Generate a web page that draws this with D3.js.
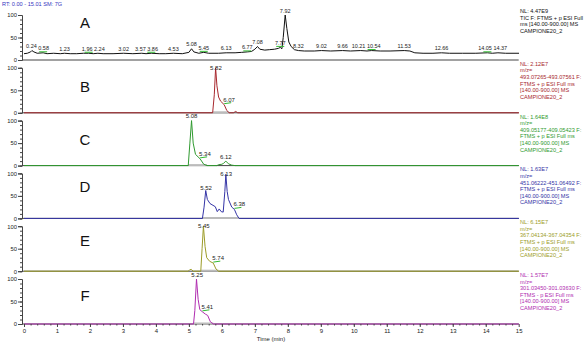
<!DOCTYPE html>
<html>
<head>
<meta charset="utf-8">
<script src="https://cdn.jsdelivr.net/npm/d3@7"></script>
<style>
  body { margin: 0; background: #fff; }
  svg text { font-family: "Liberation Sans", Arial, sans-serif; }
</style>
</head>
<body>
<div id="chart"></div>
<script>
// chromatogram traces, [time (min), relative abundance %]
var traceA = [[0,14],[0.1,15],[0.2,18],[0.24,21],[0.3,18],[0.4,15],[0.58,16],[0.7,14],[0.9,15],[1.1,14],
  [1.23,15],[1.4,14],[1.6,14],[1.8,15],[1.96,15],[2.1,14],[2.24,15],[2.4,14],[2.7,14],[3.02,15],[3.3,14],
  [3.57,15],[3.7,14],[3.86,15],[4.1,14],[4.3,14],[4.53,15],[4.8,14],[5.0,17],[5.08,25],[5.15,18],[5.3,15],
  [5.45,17],[5.6,15],[5.9,15],[6.13,16],[6.4,16],[6.6,17],[6.77,18],[6.9,19],[7.0,24],[7.08,30],[7.15,24],
  [7.3,22],[7.45,23],[7.6,24],[7.72,26],[7.77,28],[7.82,25],[7.86,50],[7.92,100],[7.97,70],[8.03,40],
  [8.1,30],[8.2,23],[8.32,21],[8.5,20],[8.8,20],[9.02,21],[9.3,20],[9.66,21],[9.9,20],[10.21,21],
  [10.4,20],[10.54,21],[10.8,20],[11.1,20],[11.53,21],[11.7,20],[11.85,16],[12.1,15],[12.4,15],
  [12.66,16],[12.9,15],[13.3,15],[13.7,15],[14.05,16],[14.2,15],[14.37,16],[14.6,15],[15.01,15]];
var traceB = [[0,0],[5.72,0],[5.77,40],[5.81,100],[5.85,60],[5.9,35],[5.96,26],[6.07,18],[6.15,5],
  [6.22,0],[6.35,0],[6.42,3],[6.48,0],[15.01,0]];
var traceC = [[0,0],[4.98,0],[5.03,50],[5.08,100],[5.13,50],[5.2,25],[5.34,15],[5.45,3],[5.55,0],
  [5.85,0],[5.9,2],[6.0,3],[6.05,5],[6.12,10],[6.2,4],[6.3,1],[6.4,0],[15.01,0]];
var traceD = [[0,0],[5.41,0],[5.46,25],[5.51,62],[5.56,42],[5.64,33],[5.8,26],[5.86,15],[5.92,21],
  [5.98,15],[6.04,14],[6.09,60],[6.12,98],[6.16,60],[6.2,42],[6.3,25],[6.38,20],[6.45,8],[6.52,0],[15.01,0]];
var traceE = [[0,0],[4.98,0],[5.02,3],[5.07,4],[5.13,0],[5.36,0],[5.4,50],[5.44,100],[5.49,55],
  [5.54,30],[5.63,22],[5.74,18],[5.82,5],[5.9,0],[15.01,0]];
var traceF = [[0,0],[5.14,0],[5.18,30],[5.23,100],[5.28,55],[5.33,32],[5.41,27],[5.5,22],[5.57,19],
  [5.65,5],[5.74,0],[15.01,0]];

var panelNames = ["A", "B", "C", "D", "E", "F"];

// peak time labels: centred over the apex / drawn beside a green marker
var peaksA = [0.24, 0.58, 1.23, 1.96, 2.24, 3.02, 3.57, 3.86, 4.53, 5.08, 5.45, 6.13, 6.77, 7.08, 7.77,
  7.92, 8.32, 9.02, 9.66, 10.21, 10.54, 11.53, 12.66, 14.05, 14.37];
var greenA = [0.58, 1.96, 3.86, 5.45, 6.77, 7.77, 10.54, 14.05];
var apexPeaks = [peaksA, [5.82], [5.08, 6.12], [5.52, 6.13], [5.45], [5.25]];
var sidePeaks = [[], [6.07], [5.34], [6.38], [5.74], [5.41]];

var nlValues = ["NL: 4.47E9", "NL: 2.12E7", "NL: 1.64E8", "NL: 1.63E7", "NL: 6.15E7", "NL: 1.57E7"];
var scanInfo = [
  ["TIC F: FTMS + p ESI Full", "ms [140.00-900.00]  MS", "CAMPIONE20_2"],
  ["m/z=", "493.07265-493.07561 F:", "FTMS + p ESI Full ms", "[140.00-900.00]  MS", "CAMPIONE20_2"],
  ["m/z=", "409.05177-409.05423 F:", "FTMS + p ESI Full ms", "[140.00-900.00]  MS", "CAMPIONE20_2"],
  ["m/z=", "451.06222-451.06492 F:", "FTMS + p ESI Full ms", "[140.00-900.00]  MS", "CAMPIONE20_2"],
  ["m/z=", "367.04134-367.04354 F:", "FTMS + p ESI Full ms", "[140.00-900.00]  MS", "CAMPIONE20_2"],
  ["m/z=", "301.03450-301.03630 F:", "FTMS - p ESI Full ms", "[140.00-900.00]  MS", "CAMPIONE20_2"]];

var xTicks = d3.range(0, 16);
var yTicks = [0, 50, 100];

var traces = [traceA, traceB, traceC, traceD, traceE, traceF];
var colors = ["#111111", "#a8282e", "#2f9a2f", "#3434a6", "#9c9c28", "#b02cb0"];
// integration baselines under the main peaks
var peakSpans = [[], [5.72, 6.22], [4.98, 5.55], [5.41, 6.52], [5.36, 5.9], [5.14, 5.74]];
var letterLevel = [82, 57, 58, 70, 67, 62];

var width = 586, height = 343;
var svg = d3.select("#chart").append("svg")
    .attr("width", width)
    .attr("height", height);

var x = d3.scaleLinear().domain([0, 15]).range([24, 518.7]);
var pitch = 52.8;

function valueAt(data, t) {
  var i = d3.bisector(function(d) { return d[0]; }).left(data, t);
  if (i <= 0) return data[0][1];
  if (i >= data.length) return data[data.length - 1][1];
  var a = data[i - 1], b = data[i];
  return a[1] + (b[1] - a[1]) * (t - a[0]) / (b[0] - a[0]);
}

// push apart labels that sit on the same level and would overlap
function spread(labels) {
  for (var pass = 0; pass < 20; pass++) {
    for (var k = 1; k < labels.length; k++) {
      var a = labels[k - 1], b = labels[k];
      if (Math.abs(a.y - b.y) > 5) continue;
      var need = (a.w + b.w) / 2 + 1.5 - (b.x - a.x);
      if (need > 0) { a.x -= need / 2; b.x += need / 2; }
    }
  }
  return labels;
}

svg.append("text")
    .attr("x", 2).attr("y", 6)
    .attr("font-size", "5.6px")
    .attr("fill", "#3535c0")
    .text("RT: 0.00 - 15.01    SM: 7G");

traces.forEach(function(data, i) {
  var y = d3.scaleLinear().domain([0, 100]).range([60 + i * pitch, 15 + i * pitch]);
  var g = svg.append("g");
  var col = colors[i];
  var fs = i === 0 ? 5.5 : 6;

  // zero line
  g.append("line")
      .attr("x1", 22).attr("x2", x(15))
      .attr("y1", y(0)).attr("y2", y(0))
      .attr("stroke", "#444").attr("stroke-width", 1);

  // y axis
  var ya = g.append("g")
      .attr("transform", "translate(22,0)")
      .call(d3.axisLeft(y).tickValues(yTicks).tickSize(4).tickPadding(1).tickFormat(d3.format("d")));
  ya.select(".domain").attr("stroke", "#444");
  ya.selectAll("line").attr("stroke", "#444");
  ya.selectAll("text").attr("font-size", "5.8px").attr("fill", "#222")
      .attr("font-family", "Liberation Sans, Arial, sans-serif");
  g.append("g")
      .attr("transform", "translate(22,0)")
      .call(d3.axisLeft(y).tickValues(d3.range(0, 101, 10)).tickSize(2).tickFormat(""))
      .call(function(s) { s.select(".domain").remove(); s.selectAll("line").attr("stroke", "#444"); });

  // integration baseline
  peakSpans[i].length && g.append("line")
      .attr("x1", x(peakSpans[i][0])).attr("x2", x(peakSpans[i][1]))
      .attr("y1", y(0) - 0.5).attr("y2", y(0) - 0.5)
      .attr("stroke", "#bbbbbb").attr("stroke-width", 2);

  // trace
  g.append("path")
      .datum(data)
      .attr("fill", "none")
      .attr("stroke", col)
      .attr("stroke-width", 1)
      .attr("d", d3.line()
        .x(function(d) { return x(d[0]); })
        .y(function(d) { return y(d[1]); }));

  // green markers
  var marks = (i === 0 ? greenA : []).concat(sidePeaks[i]);
  g.selectAll(".mark").data(marks).enter().append("line")
      .attr("x1", function(t) { return x(t) - (i === 0 ? 4 : 0); })
      .attr("x2", function(t) { return x(t) + (i === 0 ? 4 : 7); })
      .attr("y1", function(t) { return y(valueAt(data, t)) - 1; })
      .attr("y2", function(t) { return y(valueAt(data, t)) - (i === 0 ? 1 : 2); })
      .attr("stroke", "#33bb33").attr("stroke-width", 1);

  // apex labels
  var apex = spread(apexPeaks[i].map(function(t) {
    var v = d3.max([-0.02, 0, 0.02], function(dt) { return valueAt(data, t + dt); });
    var s = t.toFixed(2);
    return { t: t, s: s, x: x(t), y: y(v) - 2.5, w: (s.length - 1) * fs * 0.556 + fs * 0.278 };
  }));
  g.selectAll(".apex").data(apex).enter().append("text")
      .attr("x", function(d) { return d.x; })
      .attr("y", function(d) { return d.y; })
      .attr("text-anchor", "middle")
      .attr("font-size", fs + "px")
      .attr("fill", "#222")
      .text(function(d) { return d.s; });

  // side labels
  g.selectAll(".side").data(sidePeaks[i]).enter().append("text")
      .attr("x", function(t) { return x(t) - 1; })
      .attr("y", function(t) { return y(valueAt(data, t)) - 3; })
      .attr("font-size", "6px")
      .attr("fill", "#222")
      .text(function(t) { return t.toFixed(2); });

  // panel letter
  g.append("text")
      .attr("x", 85).attr("y", y(letterLevel[i]) + 5)
      .attr("text-anchor", "middle")
      .attr("font-family", "Liberation Serif, Times New Roman, serif")
      .attr("font-size", "15px")
      .attr("fill", "#111")
      .text(panelNames[i]);

  // normalisation level and scan filter
  var info = [nlValues[i]].concat(scanInfo[i]);
  g.selectAll(".info").data(info).enter().append("text")
      .attr("x", 520)
      .attr("y", function(d, k) { return y(100) - 2 + k * 6.6; })
      .attr("font-size", "5.6px")
      .attr("fill", col)
      .text(function(d) { return d; });

  // bottom time axis on the last panel
  if (i === traces.length - 1) {
    var xa = g.append("g")
        .attr("transform", "translate(0," + y(0) + ")")
        .call(d3.axisBottom(x).tickValues(xTicks).tickSize(3).tickPadding(2));
    xa.select(".domain").remove();
    xa.selectAll("line").attr("stroke", "#444");
    xa.selectAll("text").attr("font-size", "6px").attr("fill", "#222")
        .attr("font-family", "Liberation Sans, Arial, sans-serif");
    g.append("g")
        .attr("transform", "translate(0," + y(0) + ")")
        .call(d3.axisBottom(x).tickValues(d3.range(0, 75).map(function(k) { return k * 0.2; })).tickSize(1.5).tickFormat(""))
        .call(function(s) { s.select(".domain").remove(); s.selectAll("line").attr("stroke", "#444"); });
    g.append("text")
        .attr("x", 271).attr("y", 341)
        .attr("text-anchor", "middle")
        .attr("font-size", "6px")
        .attr("fill", "#222")
        .text("Time (min)");
  }
});
</script>
</body>
</html>
